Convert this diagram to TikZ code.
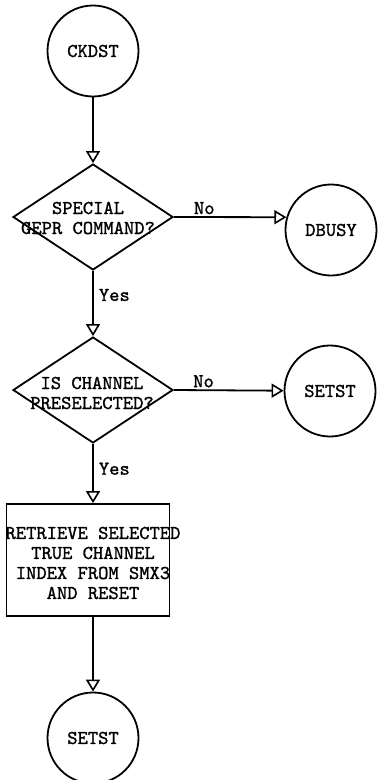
\documentclass[tikz,border=0pt]{standalone}
\usepackage{fontspec}
\usetikzlibrary{shapes.geometric,arrows.meta}
\newfontfamily\twfont{lmmono10-regular}[Extension=.otf, FakeBold=1.2]
\newcommand\typew{\fontsize{19.6}{20}\selectfont\twfont}
\tikzset{
  lw/.style={line width=1.8pt},
  term/.style={circle, draw, lw, minimum size=91pt, inner sep=0pt, font=\typew},
  decision/.style={diamond, draw, lw, minimum width=160pt, minimum height=106pt, inner sep=0pt},
  procbox/.style={rectangle, draw, lw, minimum width=163pt, minimum height=112pt, inner sep=0pt},
  inlabel/.style={font=\typew, align=center, inner sep=0pt},
  flow/.style={lw, -{Triangle[open, width=14pt, length=12pt, line width=1.6pt]}},
  branch/.style={font=\typew, inner sep=2pt}
}
\begin{document}
\begin{tikzpicture}[x=1pt,y=-1pt]
  \useasboundingbox (0,0) rectangle (378,780);
  \node[term] (ckdst) at (93,51) {CKDST};
  \node[decision, label={[inlabel, xshift=-5pt, yshift=-1pt]center:{SPECIAL\\GEPR COMMAND?}}] (d1) at (93,217) {};
  \node[term] (dbusy) at (331,230) {DBUSY};
  \node[decision, label={[inlabel, xshift=-1pt, yshift=-3pt]center:{IS CHANNEL\\PRESELECTED?}}] (d2) at (93,390) {};
  \node[term] (setsta) at (330,391) {SETST};
  \node[procbox, label={[inlabel, xshift=5pt, yshift=-3pt]center:{RETRIEVE SELECTED\\TRUE CHANNEL\\INDEX FROM SMX3\\AND RESET}}] (box) at (88,560) {};
  \node[term] (setstb) at (93,738) {SETST};

  \draw[flow] (ckdst) -- (d1);
  \draw[flow] (d1.east) -- node[branch, above, pos=0.27] {No} (dbusy.164);
  \draw[flow] (d1) -- node[branch, right, pos=0.37, xshift=3pt] {Yes} (d2);
  \draw[flow] (d2.east) -- node[branch, above, pos=0.27] {No} (setsta);
  \draw[flow] (d2.south) -- node[branch, right, pos=0.42, xshift=3pt] {Yes} (d2.south |- box.north);
  \draw[flow] (box.south -| setstb.north) -- (setstb.north);
\end{tikzpicture}
\end{document}
